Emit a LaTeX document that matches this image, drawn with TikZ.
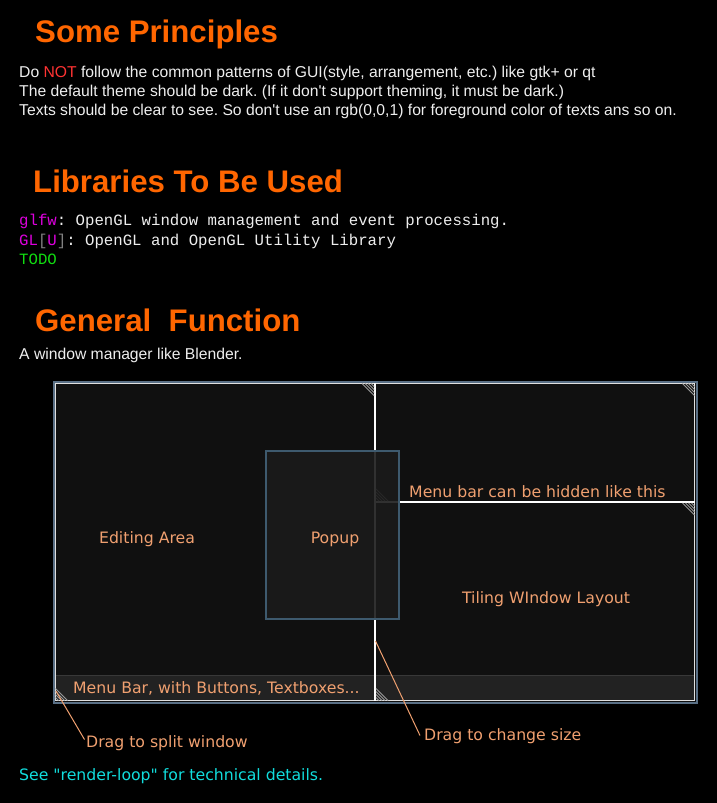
\documentclass[tikz,border=0pt]{standalone}
\usepackage{fontspec}
\setmainfont{Liberation Sans}
\setmonofont{Liberation Mono}
\newfontfamily\dvs{DejaVu Sans}
\definecolor{ttlorange}{HTML}{FF6600}
\definecolor{notred}{HTML}{FF3333}
\definecolor{bodytext}{HTML}{EEEEEE}
\definecolor{libmag}{HTML}{DD00DD}
\definecolor{brgray}{HTML}{808080}
\definecolor{todogreen}{HTML}{11DD11}
\definecolor{seecyan}{HTML}{11DDDD}
\definecolor{panefill}{HTML}{101010}
\definecolor{barfill}{HTML}{222222}
\definecolor{barline}{HTML}{383838}
\definecolor{framecol}{HTML}{5A7086}
\definecolor{popborder}{HTML}{3E5A6E}
\definecolor{popfill}{HTML}{1B1B1B}
\definecolor{lbl}{HTML}{F0A070}
\definecolor{hatchcol}{HTML}{9A9A9A}
\frenchspacing
\tikzset{
  ttl/.style={text=ttlorange, font=\fontsize{31.2}{36}\selectfont\bfseries, inner sep=0pt, anchor=base west},
  bodytxt/.style={text=bodytext, font=\fontsize{15.7}{19}\selectfont, inner sep=0pt, anchor=base west},
  monotxt/.style={text=bodytext, font=\fontsize{15.7}{19}\ttfamily, inner sep=0pt, anchor=base west},
  wlbl/.style={text=lbl, font=\fontsize{15.7}{19}\dvs, inner sep=0pt, anchor=base},
  hatchln/.style={draw=hatchcol, line width=0.8pt},
  divider/.style={draw=white, line width=1.5pt},
  leader/.style={draw=lbl, line width=1pt},
  hatchtr/.pic={\foreach \d in {0,3,6,9} \draw[hatchln] (-12+\d,0) -- (0,12-\d);},
  hatchbl/.pic={\foreach \d in {0,3,6,9} \draw[hatchln] (0,-12+\d) -- (12-\d,0);},
}
\begin{document}
\begin{tikzpicture}[x=1pt,y=-1pt]
\fill[black] (0,0) rectangle (717,803);
\useasboundingbox (0,0) rectangle (717,803);

% Section 1
\node[ttl] (t1) at (35,42) {Some Principles};
\node[bodytxt] (p1) at (19,77) {Do \textcolor{notred}{NOT} follow the common patterns of GUI(style, arrangement, etc.) like gtk+ or qt};
\node[bodytxt] (p2) at (19,96) {The default theme should be dark. (If it don\textquotesingle t support theming, it must be dark.)};
\node[bodytxt] (p3) at (19,115) {Texts should be clear to see. So don\textquotesingle t use an rgb(0,0,1) for foreground color of texts ans so on.};

% Section 2
\node[ttl] (t2) at (33,192) {Libraries To Be Used};
\node[monotxt] (l1) at (19,225.5) {\textcolor{libmag}{glfw}: OpenGL window management and event processing.};
\node[monotxt] (l2) at (19,245) {\textcolor{libmag}{GL}\textcolor{brgray}{[}\textcolor{libmag}{U}\textcolor{brgray}{]}: OpenGL and OpenGL Utility Library};
\node[monotxt] (l3) at (19,264.5) {\textcolor{todogreen}{TODO}};

% Section 3
\node[ttl] (t3) at (35,331) {General\ \ Function};
\node[bodytxt] (g1) at (19,359) {A window manager like Blender.};

% Window
\fill[panefill] (54,382) rectangle (696,702);
\fill[barfill] (55,675) rectangle (695,701);
\draw[barline, line width=1pt] (55,675.5) -- (695,675.5);
\draw[framecol, line width=2pt] (53.5,381.5) rectangle (696.5,702.5);
\draw[white!88!black, line width=1.2pt] (55.2,383.2) rectangle (694.8,700.8);
\draw[divider] (375,383) -- (375,701);
\draw[divider] (375,502) -- (695,502);

% corner hatches
\pic at (374,383.5) {hatchtr};
\pic at (694.5,383.5) {hatchtr};
\pic at (694.5,503) {hatchtr};
\pic at (55.5,700.5) {hatchbl};
\pic at (376,700.5) {hatchbl};
\pic at (376,501) {hatchbl};

% Popup
\draw[popborder, line width=2pt, fill=popfill, fill opacity=0.9] (266,451) rectangle (399,619);

% Labels
\node[wlbl] (edit) at (147,543) {Editing Area};
\node[wlbl] (popup) at (335,543) {Popup};
\node[wlbl, anchor=base west] (hide) at (409,497) {Menu bar can be hidden like this};
\node[wlbl] (tiling) at (546,603) {Tiling WIndow Layout};
\node[wlbl, anchor=base west] (menubar) at (73,693.5) {Menu Bar, with Buttons, Textboxes...};
\node[wlbl, anchor=base west] (split) at (86,747.5) {Drag to split window};
\node[wlbl, anchor=base west] (resize) at (424,740) {Drag to change size};

\coordinate (splitpt) at (56,691);
\coordinate (splitend) at (84.5,739.5);
\coordinate (resizept) at (375.5,641);
\coordinate (resizeend) at (420,735.5);
\draw[leader] (splitpt) -- (splitend);
\draw[leader] (resizept) -- (resizeend);

\node[wlbl, text=seecyan, anchor=base west] (see) at (19,780) {See "render-loop" for technical details.};
\end{tikzpicture}
\end{document}
